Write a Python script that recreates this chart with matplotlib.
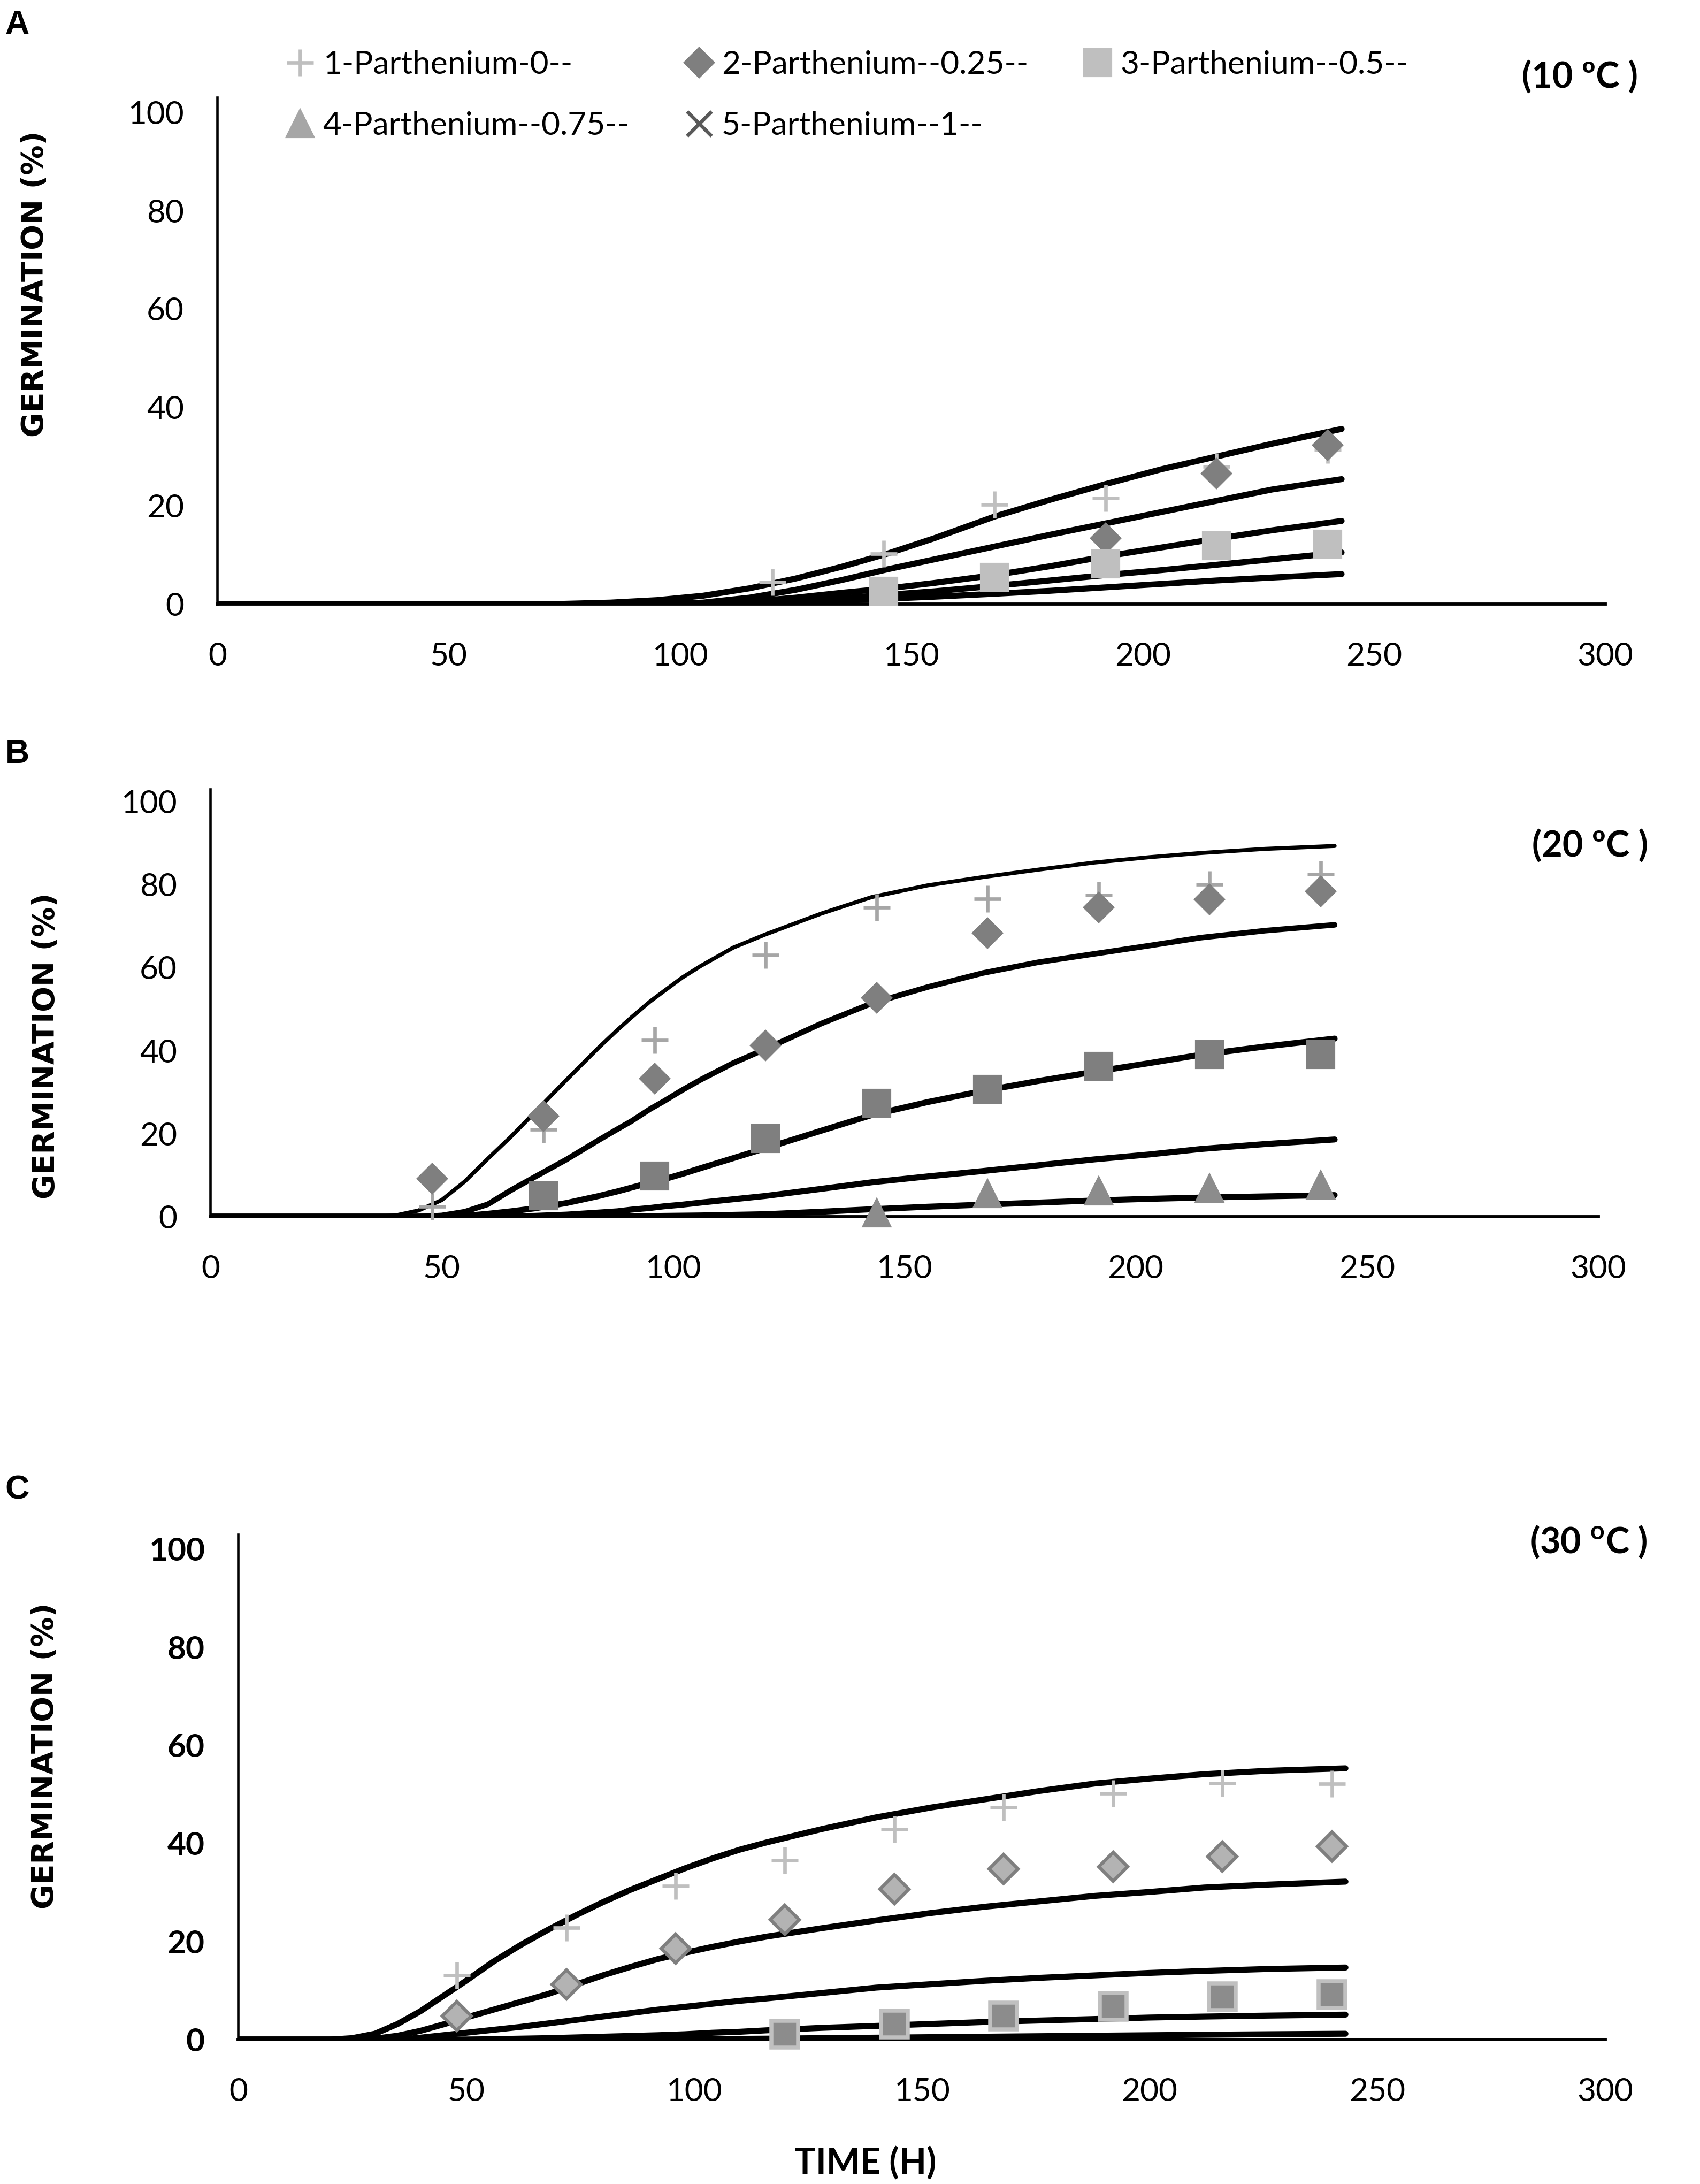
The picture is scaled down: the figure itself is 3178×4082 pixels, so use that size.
import matplotlib
matplotlib.use("Agg")
import matplotlib.pyplot as plt
from matplotlib.lines import Line2D

plt.rcParams['font.family'] = ['Lato', 'DejaVu Sans']
plt.rcParams['mathtext.fontset'] = 'custom'
plt.rcParams['mathtext.bf'] = 'Lato:bold'
plt.rcParams['mathtext.rm'] = 'Lato'

# observation times (h)
t_obs = [24, 48, 72, 96, 120, 144, 168, 192, 216, 240]

# ---------- panel A, 10 C ----------
a_s1_t = [120, 144, 168, 192, 216, 240]
a_s1 = [4.5, 10.2, 20.2, 21.5, 28.0, 31.3]
a_s2_t = [192, 216, 240]
a_s2 = [13.4, 26.5, 32.3]
a_s3_t = [144, 168, 192, 216, 240]
a_s3 = [2.6, 5.4, 8.2, 11.9, 12.2]

a_fit_t = [0, 60, 75, 85, 95, 105, 115, 125, 135, 145, 155, 168, 180, 192, 204, 216, 228, 243]
a_fit1 = [0, 0, 0.05, 0.3, 0.8, 1.7, 3.2, 5.2, 7.6, 10.3, 13.4, 17.8, 21.2, 24.4, 27.4, 30.0, 32.6, 35.6]
a_fit2 = [0, 0, 0, 0, 0, 0.3, 1.3, 2.9, 4.9, 7.1, 9.1, 11.7, 14.1, 16.4, 18.7, 21.0, 23.3, 25.4]
a_fit3 = [0, 0, 0, 0, 0, 0.1, 0.5, 1.3, 2.3, 3.2, 4.3, 5.9, 7.7, 9.7, 11.5, 13.3, 15.0, 16.9]
a_fit4 = [0, 0, 0, 0, 0, 0, 0.2, 0.6, 1.2, 1.9, 2.6, 3.7, 4.8, 5.9, 6.9, 8.0, 9.1, 10.5]
a_fit5 = [0, 0, 0, 0, 0, 0, 0.1, 0.4, 0.7, 1.1, 1.5, 2.1, 2.7, 3.4, 4.1, 4.8, 5.4, 6.1]

# ---------- panel B, 20 C ----------
b_s1_t = [48, 72, 96, 120, 144, 168, 192, 216, 240]
b_s1 = [2.5, 21.0, 42.5, 63.0, 74.5, 76.5, 77.5, 80.0, 82.5]
b_s2_t = [48, 72, 96, 120, 144, 168, 192, 216, 240]
b_s2 = [9.1, 24.3, 33.2, 41.2, 52.7, 68.3, 74.5, 76.4, 78.4]
b_s3_t = [72, 96, 120, 144, 168, 192, 216, 240]
b_s3 = [5.1, 9.8, 18.8, 27.3, 30.7, 36.2, 39.1, 39.1]
b_s4_t = [144, 168, 192, 216, 240]
b_s4 = [0.9, 5.6, 6.2, 6.8, 7.6]

b_fit_t = [0, 35, 40, 45, 50, 55, 60, 65, 70, 77, 84, 88, 91, 95, 98, 102, 106, 113, 120, 132, 143, 155, 167, 179, 191, 203, 214, 228, 243]
b_fit1 = [0, 0, 0.3, 1.5, 4.0, 8.5, 14.0, 19.3, 25.0, 33.0, 40.8, 45.0, 48.0, 51.8, 54.3, 57.6, 60.4, 64.8, 68.0, 73.0, 77.0, 79.8, 81.8, 83.6, 85.3, 86.6, 87.6, 88.6, 89.3]
b_fit2 = [0, 0, 0, 0, 0.3, 1.2, 3.0, 6.4, 9.5, 13.8, 18.5, 21.1, 23.0, 25.9, 27.8, 30.5, 33.0, 37.0, 40.4, 46.5, 51.4, 55.3, 58.7, 61.3, 63.3, 65.3, 67.2, 68.9, 70.3]
b_fit3 = [0, 0, 0, 0, 0, 0.2, 0.7, 1.3, 2.0, 3.3, 5.0, 6.1, 7.0, 8.2, 9.0, 10.3, 11.7, 14.1, 16.5, 20.7, 24.5, 27.6, 30.3, 32.7, 34.9, 37.0, 39.0, 41.0, 42.9]
b_fit4 = [0, 0, 0, 0, 0, 0, 0, 0.1, 0.2, 0.5, 1.0, 1.3, 1.7, 2.1, 2.5, 2.9, 3.4, 4.2, 5.0, 6.7, 8.3, 9.7, 11.0, 12.4, 13.8, 15.0, 16.3, 17.5, 18.6]
b_fit5 = [0, 0, 0, 0, 0, 0, 0, 0, 0, 0, 0, 0.05, 0.1, 0.15, 0.2, 0.25, 0.3, 0.45, 0.6, 1.2, 1.8, 2.4, 2.9, 3.4, 3.9, 4.3, 4.6, 4.9, 5.2]

# ---------- panel C, 30 C ----------
c_s1_t = [48, 72, 96, 120, 144, 168, 192, 216, 240]
c_s1 = [13.1, 22.8, 31.3, 36.5, 42.9, 47.3, 50.2, 52.2, 52.1]
c_s2_t = [48, 72, 96, 120, 144, 168, 192, 216, 240]
c_s2 = [4.8, 11.3, 18.6, 24.4, 30.7, 34.8, 35.2, 37.3, 39.4]
c_s3_t = [120, 144, 168, 192, 216, 240]
c_s3 = [1.1, 3.2, 4.8, 6.8, 8.7, 9.2]

c_fit_t = [0, 20, 25, 30, 35, 40, 45, 50, 56, 62, 68, 74, 80, 86, 92, 98, 104, 110, 116, 128, 140, 152, 164, 176, 188, 200, 212, 226, 243]
c_fit1 = [0, 0, 0.3, 1.2, 3.2, 5.8, 8.9, 12.0, 15.9, 19.3, 22.4, 25.3, 28.0, 30.5, 32.7, 34.9, 36.9, 38.7, 40.2, 42.9, 45.3, 47.3, 49.0, 50.7, 52.2, 53.2, 54.1, 54.8, 55.3]
c_fit2 = [0, 0, 0, 0.2, 0.8, 1.8, 3.1, 4.5, 6.1, 7.7, 9.3, 11.2, 13.1, 14.8, 16.4, 17.7, 18.9, 20.0, 21.0, 22.7, 24.3, 25.8, 27.1, 28.2, 29.3, 30.1, 31.0, 31.6, 32.2]
c_fit3 = [0, 0, 0, 0, 0, 0.4, 0.9, 1.4, 2.0, 2.6, 3.3, 4.0, 4.7, 5.4, 6.1, 6.7, 7.3, 7.9, 8.4, 9.5, 10.6, 11.3, 12.0, 12.6, 13.1, 13.6, 14.0, 14.4, 14.7]
c_fit4 = [0, 0, 0, 0, 0, 0, 0, 0, 0.1, 0.2, 0.3, 0.45, 0.6, 0.75, 0.9, 1.1, 1.4, 1.6, 1.9, 2.4, 2.8, 3.2, 3.6, 3.9, 4.2, 4.5, 4.7, 4.9, 5.1]
c_fit5 = [0, 0, 0, 0, 0, 0, 0, 0, 0, 0, 0, 0, 0, 0.05, 0.08, 0.1, 0.13, 0.16, 0.2, 0.3, 0.4, 0.5, 0.6, 0.7, 0.8, 0.9, 1.0, 1.1, 1.2]

legend_labels = ['1-Parthenium-0--', '2-Parthenium--0.25--', '3-Parthenium--0.5--',
                 '4-Parthenium--0.75--', '5-Parthenium--1--']
x_ticks = [0, 50, 100, 150, 200, 250, 300]
y_ticks = [0, 20, 40, 60, 80, 100]

fig = plt.figure(figsize=(3179 / 300, 4082 / 300), dpi=300)

axA = fig.add_axes([0.1278, 0.7234, 0.8162, 0.2320])
axB = fig.add_axes([0.1237, 0.4429, 0.8162, 0.1958])
axC = fig.add_axes([0.1401, 0.0661, 0.8038, 0.2314])


def style_axis(ax, bold=False):
    ax.set_xlim(0, 300)
    ax.set_ylim(0, 103)
    ax.set_xticks(x_ticks)
    ax.set_yticks(y_ticks)
    for s in ['top', 'right']:
        ax.spines[s].set_visible(False)
    ax.spines['left'].set_linewidth(1.1)
    ax.spines['bottom'].set_linewidth(1.4)
    ax.tick_params(axis='both', length=0, labelsize=14.5)
    ax.tick_params(axis='x', pad=17)
    ax.tick_params(axis='y', pad=15)
    if bold:
        for lab in ax.get_yticklabels():
            lab.set_fontweight('bold')


def draw_fits(ax, t, fits, widths):
    for y, lw in zip(fits, widths):
        ax.plot(t, y, color='black', lw=lw, solid_capstyle='round',
                solid_joinstyle='round', zorder=3)


# panel A
style_axis(axA)
draw_fits(axA, a_fit_t, [a_fit1, a_fit2, a_fit3, a_fit4, a_fit5], [2.7] * 5)
axA.plot(a_s1_t, a_s1, ls='none', marker='+', ms=12, mew=1.6, color='#bfbfbf', zorder=4)
axA.plot(a_s2_t, a_s2, ls='none', marker='D', ms=9, color='#7f7f7f', mec='#7f7f7f', zorder=4)
axA.plot(a_s3_t, a_s3, ls='none', marker='s', ms=12, color='#bfbfbf', mec='#bfbfbf', zorder=4, clip_on=False)

# panel B
style_axis(axB)
draw_fits(axB, b_fit_t, [b_fit1, b_fit2, b_fit3, b_fit4, b_fit5], [1.8, 2.5, 2.7, 2.7, 2.7])
axB.plot(b_s1_t, b_s1, ls='none', marker='+', ms=12, mew=1.6, color='#a6a6a6', zorder=4, clip_on=False)
axB.plot(b_s2_t, b_s2, ls='none', marker='D', ms=9, color='#7f7f7f', mec='#7f7f7f', zorder=4)
axB.plot(b_s3_t, b_s3, ls='none', marker='s', ms=12, color='#7f7f7f', mec='#7f7f7f', zorder=4)
axB.plot(b_s4_t, b_s4, ls='none', marker='^', ms=12, color='#8c8c8c', mec='#8c8c8c', zorder=4, clip_on=False)

# panel C
style_axis(axC, bold=True)
draw_fits(axC, c_fit_t, [c_fit1, c_fit2, c_fit3, c_fit4, c_fit5], [2.7] * 5)
axC.plot(c_s1_t, c_s1, ls='none', marker='+', ms=12, mew=1.6, color='#bfbfbf', zorder=4)
axC.plot(c_s2_t, c_s2, ls='none', marker='D', ms=9, color='#b3b3b3', mec='#7f7f7f', mew=1.5, zorder=4)
axC.plot(c_s3_t, c_s3, ls='none', marker='s', ms=12, color='#8c8c8c', mec='#c0c0c0', mew=1.8, zorder=4, clip_on=False)

# legend (panel A only), row-major order
h = [Line2D([], [], ls='none', marker='+', ms=12, mew=1.6, color='#bfbfbf'),
     Line2D([], [], ls='none', marker='D', ms=9, color='#7f7f7f'),
     Line2D([], [], ls='none', marker='s', ms=12, color='#bfbfbf'),
     Line2D([], [], ls='none', marker='^', ms=12, color='#a6a6a6'),
     Line2D([], [], ls='none', marker='x', ms=11, mew=1.6, color='#595959')]
order = [0, 3, 1, 4, 2]
fig.legend([h[i] for i in order], [legend_labels[i] for i in order],
           loc='upper left', bbox_to_anchor=(0.169, 0.977), ncol=3, frameon=False,
           fontsize=14.5, handlelength=0.8, handletextpad=0.3, columnspacing=1.75,
           labelspacing=1.0, borderpad=0, borderaxespad=0)

# titles
fig.text(0.929, 0.9645, '(10 ºC )', ha='center', va='center', fontsize=16, fontweight='bold')
fig.text(0.935, 0.6124, '(20 ºC )', ha='center', va='center', fontsize=16, fontweight='bold')
fig.text(0.934, 0.2940, r'(30 $^{\mathbf{o}}$C )', ha='center', va='center', fontsize=16, fontweight='bold')

# panel letters
for y, s in [(0.9885, 'A'), (0.6546, 'B'), (0.3177, 'C')]:
    fig.text(0.003, y, s, ha='left', va='center', fontsize=15, fontweight='bold',
             family='Liberation Sans')

# y labels
for x, y in [(0.0206, 0.870), (0.0272, 0.521), (0.0264, 0.196)]:
    fig.text(x, y, 'GERMINATION (%)', rotation=90, ha='center', va='center',
             fontsize=13.5, fontweight='bold', family='DejaVu Sans')

fig.text(0.509, 0.0095, 'TIME (H)', ha='center', va='center', fontsize=16, fontweight='bold')

fig.savefig('out.png', dpi=300)
